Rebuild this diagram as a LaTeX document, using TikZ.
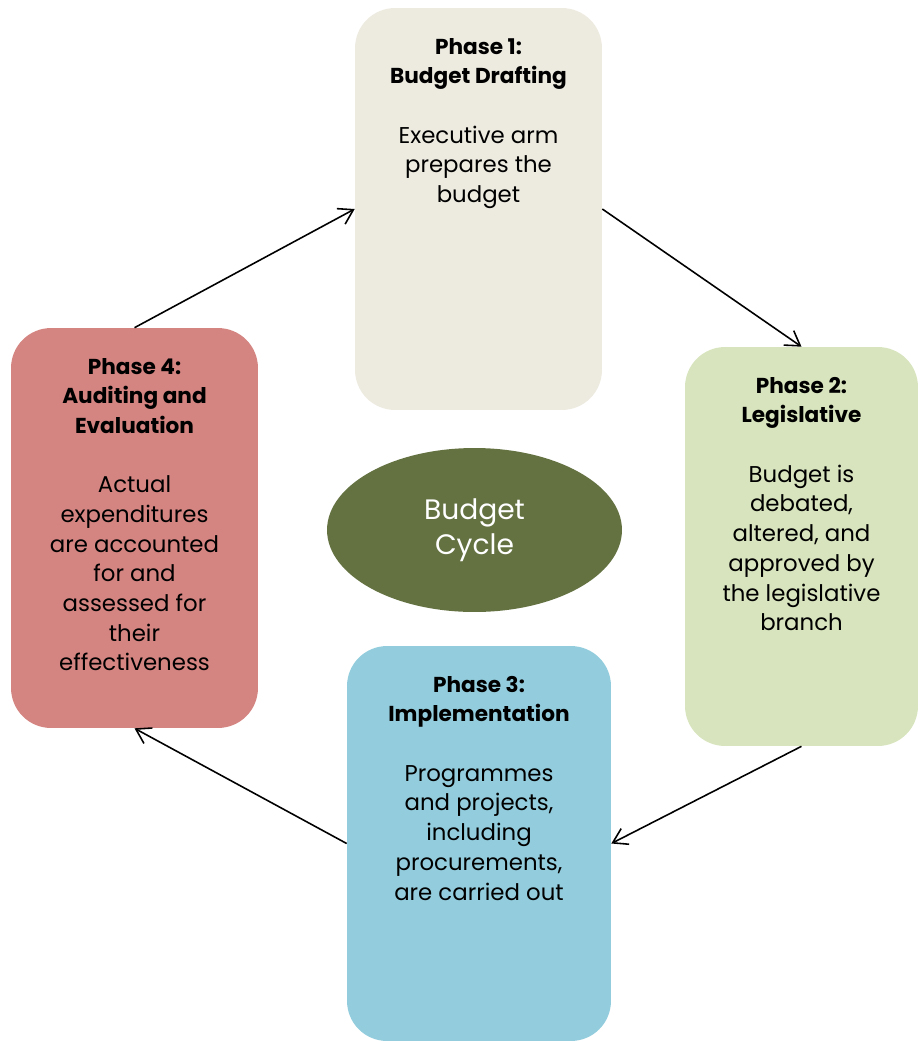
\documentclass[tikz,border=0pt]{standalone}
\usepackage{fontspec}
\setmainfont{Poppins}
\usetikzlibrary{shapes.geometric,arrows.meta}

\definecolor{draftcol}{HTML}{EDEBE0}
\definecolor{legiscol}{HTML}{D7E4BD}
\definecolor{implcol}{HTML}{93CDDD}
\definecolor{auditcol}{HTML}{D48481}
\definecolor{cyclecol}{HTML}{647242}

\begin{document}
\begin{tikzpicture}[x=0.02cm, y=-0.02cm,
  phase/.style={rounded corners=0.8cm, inner sep=0pt},
  phasetext/.style={anchor=north, align=center, inner sep=0pt, yshift=-0.6cm,
    font=\fontsize{13}{16.9}\selectfont},
  flow/.style={-{Straight Barb[length=8pt, width=10pt]}, line width=0.9pt}]
  \useasboundingbox (0,0) rectangle (920,1042);

  % Phase boxes
  \node[phase, fill=draftcol, minimum width=4.94cm, minimum height=8.04cm] (p1) at (478.5,209) {};
  \node[phase, fill=legiscol, minimum width=4.66cm, minimum height=7.98cm] (p2) at (801.5,546.5) {};
  \node[phase, fill=implcol, minimum width=5.28cm, minimum height=7.9cm] (p3) at (479,843.5) {};
  \node[phase, fill=auditcol, minimum width=4.94cm, minimum height=8.0cm] (p4) at (134.5,528) {};

  % Centre ellipse
  \node[ellipse, fill=cyclecol, text=white, minimum width=5.9cm, minimum height=3.28cm,
    align=center, font=\fontsize{16}{20}\selectfont] (cycle) at (474.5,530) {Budget\\Cycle};

  % Box texts
  \node[phasetext] (t1) at (p1.north) {\textbf{\fontsize{12.3}{16.9}\selectfont Phase 1:}\\\textbf{\fontsize{12.3}{16.9}\selectfont Budget Drafting}\\[16.9pt]
    Executive arm\\prepares the\\budget};
  \node[phasetext] (t2) at (p2.north) {\textbf{\fontsize{12.3}{16.9}\selectfont Phase 2:}\\\textbf{\fontsize{12.3}{16.9}\selectfont Legislative}\\[16.9pt]
    Budget is\\debated,\\altered, and\\approved by\\the legislative\\branch};
  \node[phasetext] (t3) at (p3.north) {\textbf{\fontsize{12.3}{16.9}\selectfont Phase 3:}\\\textbf{\fontsize{12.3}{16.9}\selectfont Implementation}\\[16.9pt]
    Programmes\\and projects,\\including\\procurements,\\are carried out};
  \node[phasetext] (t4) at (p4.north) {\textbf{\fontsize{12.3}{16.9}\selectfont Phase 4:}\\\textbf{\fontsize{12.3}{16.9}\selectfont Auditing and}\\\textbf{\fontsize{12.3}{16.9}\selectfont Evaluation}\\[16.9pt]
    Actual\\expenditures\\are accounted\\for and\\assessed for\\their\\effectiveness};

  % Arrows round the cycle
  \draw[flow] (p4.north) -- (p1.west);
  \draw[flow] (p1.east) -- (p2.north);
  \draw[flow] (p2.south) -- (p3.east);
  \draw[flow] (p3.west) -- (p4.south);
\end{tikzpicture}
\end{document}
